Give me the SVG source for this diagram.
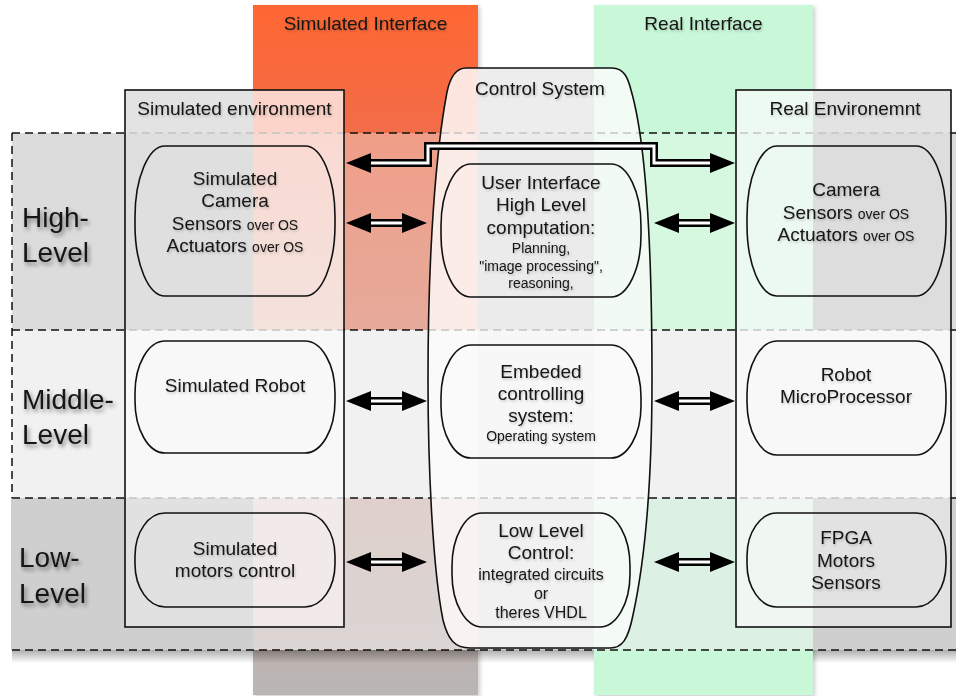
<svg xmlns="http://www.w3.org/2000/svg" width="956" height="696" viewBox="0 0 956 696">
  <style>
    .t { font-family: "Liberation Sans", Arial, Helvetica, sans-serif; font-size: 19px; fill: #141414; text-anchor: middle; }
    .sm { font-size: 14px; }
    .md { font-size: 16px; }
    .lvl { font-size: 28px; text-anchor: start; }
    .node { fill: none; stroke: #111; stroke-width: 1.6; }
    .box { fill: none; stroke: #111; stroke-width: 1.6; }
    .dash { fill: none; stroke: #111; stroke-width: 1.5; stroke-dasharray: 8 5; }
    .dash-in { fill: none; stroke: #c4c4c4; stroke-width: 1.5; stroke-dasharray: 8 5; }
    .shaft { fill: none; stroke: #000; stroke-width: 8; stroke-linejoin: miter; marker-start: url(#head); marker-end: url(#head); }
    .core { fill: none; stroke: #fff; stroke-width: 3; stroke-linejoin: miter; }
  </style>
  <defs>
    <marker id="head" viewBox="0 0 25 20" refX="5" refY="10" markerWidth="25" markerHeight="20" markerUnits="userSpaceOnUse" orient="auto-start-reverse">
      <path d="M0,0 L25,10 L0,20 Z" fill="#000"/>
    </marker>
    <linearGradient id="simCol" x1="0" y1="0" x2="0" y2="1">
      <stop offset="0" stop-color="#ff6633"/>
      <stop offset="0.186" stop-color="#f16d48"/>
      <stop offset="0.936" stop-color="#bfb3b0"/>
      <stop offset="1" stop-color="#b8b6b5"/>
    </linearGradient>
    <linearGradient id="hiSim" x1="0" y1="0" x2="0" y2="1">
      <stop offset="0" stop-color="#f09e88"/>
      <stop offset="1" stop-color="#e6aa9b"/>
    </linearGradient>
    <linearGradient id="loSim" x1="0" y1="0" x2="0" y2="1">
      <stop offset="0" stop-color="#dfd0cc"/>
      <stop offset="1" stop-color="#dbd5d3"/>
    </linearGradient>
    <linearGradient id="hiEnvSim" x1="0" y1="0" x2="0" y2="1">
      <stop offset="0" stop-color="#f9dad2"/>
      <stop offset="1" stop-color="#f4e2dd"/>
    </linearGradient>
    <linearGradient id="bandShade" x1="0" y1="0" x2="0" y2="1">
      <stop offset="0" stop-color="#000" stop-opacity="0.32"/>
      <stop offset="1" stop-color="#000" stop-opacity="0"/>
    </linearGradient>
    <filter id="colShadow" x="-5%" y="-5%" width="115%" height="115%">
      <feDropShadow dx="2" dy="2" stdDeviation="2" flood-color="#000" flood-opacity="0.2"/>
    </filter>
    <filter id="txtShadow" x="-10%" y="-40%" width="120%" height="180%">
      <feDropShadow dx="1" dy="1.5" stdDeviation="1" flood-color="#000" flood-opacity="0.22"/>
    </filter>
    <filter id="lvlShadow" x="-20%" y="-40%" width="150%" height="190%">
      <feDropShadow dx="2" dy="3" stdDeviation="2" flood-color="#000" flood-opacity="0.45"/>
    </filter>
    <clipPath id="ctlClip">
      <path d="M466,68 L612,68 C624,68 628,78 631,90 C647,145 652,250 652,380 C652,480 645,560 633,615 C628,640 622,648 610,648 L470,648 C455,648 448,640 443,620 C433,570 428,470 428,380 C428,250 436,150 447,92 C450,78 455,68 466,68 Z"/>
    </clipPath>
    <clipPath id="insideClip">
      <rect x="125" y="90" width="219" height="537"/>
      <rect x="736" y="90" width="215" height="537"/>
      <path d="M466,68 L612,68 C624,68 628,78 631,90 C647,145 652,250 652,380 C652,480 645,560 633,615 C628,640 622,648 610,648 L470,648 C455,648 448,640 443,620 C433,570 428,470 428,380 C428,250 436,150 447,92 C450,78 455,68 466,68 Z"/>
    </clipPath>
  </defs>

  <rect x="0" y="0" width="956" height="696" fill="#ffffff"/>

  <!-- interface columns -->
  <g id="simulated-interface">
    <rect x="253" y="5" width="225" height="690" fill="url(#simCol)" filter="url(#colShadow)"/>
  </g>
  <g id="real-interface">
    <rect x="594" y="5" width="219" height="690" fill="#c8f8d8" filter="url(#colShadow)"/>
  </g>

  <!-- level bands -->
  <g id="bands">
    <rect x="12" y="650" width="582" height="13" fill="url(#bandShade)"/>
    <rect x="813" y="650" width="143" height="13" fill="url(#bandShade)"/>
    <rect x="12" y="133" width="944" height="197" fill="#dcdcdc"/>
    <rect x="12" y="330" width="944" height="168" fill="#f1f1f1"/>
    <rect x="11" y="498" width="945" height="152" fill="#cfcfcf"/>
    <rect x="253" y="133" width="225" height="197" fill="url(#hiSim)"/>
    <rect x="594" y="133" width="219" height="197" fill="#d6f8e0"/>
    <rect x="253" y="498" width="225" height="152" fill="url(#loSim)"/>
    <rect x="594" y="498" width="219" height="152" fill="#ddf0e4"/>
    <path class="dash" d="M12,133 H956 M12,330 H956 M12,498 H956 M12,650 H956 M12,133 V498"/>
  </g>

  <!-- environment containers -->
  <g id="simulated-environment">
    <rect x="125" y="90" width="128" height="43" fill="#e3e3e3"/>
    <rect x="253" y="90" width="91" height="43" fill="#fcd4c9"/>
    <rect x="125" y="133" width="128" height="197" fill="#dfdfdf"/>
    <rect x="253" y="133" width="91" height="197" fill="url(#hiEnvSim)"/>
    <rect x="125" y="330" width="219" height="168" fill="#f8f8f8"/>
    <rect x="125" y="498" width="128" height="129" fill="#e1e1e1"/>
    <rect x="253" y="498" width="91" height="129" fill="#f1eae8"/>
  </g>
  <g id="real-environment">
    <rect x="736" y="90" width="77" height="43" fill="#edfaf1"/>
    <rect x="813" y="90" width="138" height="43" fill="#e3e3e3"/>
    <rect x="736" y="133" width="77" height="197" fill="#ecf9f0"/>
    <rect x="813" y="133" width="138" height="197" fill="#dddddd"/>
    <rect x="736" y="330" width="215" height="168" fill="#f8f8f8"/>
    <rect x="736" y="498" width="77" height="129" fill="#f0f7f2"/>
    <rect x="813" y="498" width="138" height="129" fill="#e2e2e2"/>
  </g>
  <g id="control-system" clip-path="url(#ctlClip)">
    <rect x="420" y="60" width="58" height="73" fill="#fde6e0"/>
    <rect x="420" y="133" width="58" height="197" fill="#fcece8"/>
    <rect x="420" y="330" width="58" height="168" fill="#fafafa"/>
    <rect x="420" y="498" width="58" height="152" fill="#f8f2f1"/>
    <rect x="478" y="60" width="116" height="73" fill="#ededed"/>
    <rect x="478" y="133" width="116" height="197" fill="#ebebeb"/>
    <rect x="478" y="330" width="116" height="168" fill="#f7f7f7"/>
    <rect x="478" y="498" width="116" height="152" fill="#f1f1f1"/>
    <rect x="594" y="60" width="66" height="73" fill="#f2fbf4"/>
    <rect x="594" y="133" width="66" height="197" fill="#f1faf3"/>
    <rect x="594" y="330" width="66" height="168" fill="#fafafa"/>
    <rect x="594" y="498" width="66" height="152" fill="#f4faf6"/>
  </g>
  <g id="band-lines-inside" clip-path="url(#insideClip)">
    <path class="dash-in" d="M12,133 H956 M12,330 H956 M12,498 H956"/>
  </g>
  <g id="container-outlines">
    <rect class="box" x="125" y="90" width="219" height="537"/>
    <rect class="box" x="736" y="90" width="215" height="537"/>
    <path class="box" d="M466,68 L612,68 C624,68 628,78 631,90 C647,145 652,250 652,380 C652,480 645,560 633,615 C628,640 622,648 610,648 L470,648 C455,648 448,640 443,620 C433,570 428,470 428,380 C428,250 436,150 447,92 C450,78 455,68 466,68 Z"/>
  </g>

  <!-- headings -->
  <g id="headings" filter="url(#txtShadow)">
    <text class="t" x="365.5" y="30">Simulated Interface</text>
    <text class="t" x="703.5" y="30">Real Interface</text>
    <text class="t" x="540" y="95">Control System</text>
    <text class="t" x="234.5" y="115">Simulated environment</text>
    <text class="t" x="845" y="115">Real Environemnt</text>
  </g>
  <g id="level-labels" filter="url(#lvlShadow)">
    <text class="t lvl" x="22" y="227">High-</text>
    <text class="t lvl" x="22" y="262">Level</text>
    <text class="t lvl" x="22" y="409">Middle-</text>
    <text class="t lvl" x="22" y="444">Level</text>
    <text class="t lvl" x="19" y="567">Low-</text>
    <text class="t lvl" x="19" y="603">Level</text>
  </g>

  <!-- nodes -->
  <g id="sim-camera">
    <rect class="node" x="135" y="146" width="200" height="150" rx="30" ry="71"/>
    <g filter="url(#txtShadow)">
      <text class="t" x="235" y="185">Simulated</text>
      <text class="t" x="235" y="207">Camera</text>
      <text class="t" x="235" y="229.5">Sensors <tspan class="sm">over OS</tspan></text>
      <text class="t" x="235" y="252">Actuators <tspan class="sm">over OS</tspan></text>
    </g>
  </g>
  <g id="sim-robot">
    <rect class="node" x="135" y="341" width="200" height="112" rx="30" ry="52"/>
    <text class="t" x="235" y="391.5" filter="url(#txtShadow)">Simulated Robot</text>
  </g>
  <g id="sim-motors">
    <rect class="node" x="135" y="513" width="200" height="94" rx="30" ry="43"/>
    <g filter="url(#txtShadow)">
      <text class="t" x="235" y="555">Simulated</text>
      <text class="t" x="235" y="577">motors control</text>
    </g>
  </g>
  <g id="user-interface">
    <rect class="node" x="441" y="164" width="200" height="133" rx="30" ry="62"/>
    <g filter="url(#txtShadow)">
      <text class="t" x="541" y="189">User Interface</text>
      <text class="t" x="541" y="211">High Level</text>
      <text class="t" x="541" y="233.5">computation:</text>
      <text class="t sm" x="541" y="253">Planning,</text>
      <text class="t sm" x="541" y="271">"image processing",</text>
      <text class="t sm" x="541" y="288">reasoning,</text>
    </g>
  </g>
  <g id="embedded-system">
    <rect class="node" x="441" y="345" width="200" height="113" rx="30" ry="52"/>
    <g filter="url(#txtShadow)">
      <text class="t" x="541" y="378">Embeded</text>
      <text class="t" x="541" y="400">controlling</text>
      <text class="t" x="541" y="422">system:</text>
      <text class="t sm" x="541" y="440.5">Operating system</text>
    </g>
  </g>
  <g id="low-level-control">
    <rect class="node" x="452" y="513" width="178" height="114" rx="30" ry="53"/>
    <g filter="url(#txtShadow)">
      <text class="t" x="541" y="537">Low Level</text>
      <text class="t" x="541" y="559">Control:</text>
      <text class="t md" x="541" y="580">integrated circuits</text>
      <text class="t md" x="541" y="598.5">or</text>
      <text class="t md" x="541" y="617.5">theres VHDL</text>
    </g>
  </g>
  <g id="real-camera">
    <rect class="node" x="747" y="146" width="199" height="150" rx="30" ry="71"/>
    <g filter="url(#txtShadow)">
      <text class="t" x="846" y="196">Camera</text>
      <text class="t" x="846" y="218.5">Sensors <tspan class="sm">over OS</tspan></text>
      <text class="t" x="846" y="240.5">Actuators <tspan class="sm">over OS</tspan></text>
    </g>
  </g>
  <g id="robot-microprocessor">
    <rect class="node" x="747" y="341" width="199" height="114" rx="30" ry="53"/>
    <g filter="url(#txtShadow)">
      <text class="t" x="846" y="381">Robot</text>
      <text class="t" x="846" y="403">MicroProcessor</text>
    </g>
  </g>
  <g id="fpga">
    <rect class="node" x="747" y="513" width="199" height="94" rx="30" ry="43"/>
    <g filter="url(#txtShadow)">
      <text class="t" x="846" y="544">FPGA</text>
      <text class="t" x="846" y="566.5">Motors</text>
      <text class="t" x="846" y="589">Sensors</text>
    </g>
  </g>

  <!-- connectors: double-line two-way arrows -->
  <g id="connectors">
    <path class="shaft" d="M366,163 H428 V146 H654 V163 H715"/>
    <path class="core" d="M371,163 H428 V146 H654 V163 H710"/>

    <path class="shaft" d="M366,223 H407"/>
    <path class="core" d="M371,223 H402"/>
    <path class="shaft" d="M674,223 H715"/>
    <path class="core" d="M679,223 H710"/>

    <path class="shaft" d="M366,401 H407"/>
    <path class="core" d="M371,401 H402"/>
    <path class="shaft" d="M674,401 H715"/>
    <path class="core" d="M679,401 H710"/>

    <path class="shaft" d="M366,562 H407"/>
    <path class="core" d="M371,562 H402"/>
    <path class="shaft" d="M674,562 H715"/>
    <path class="core" d="M679,562 H710"/>
  </g>
</svg>
